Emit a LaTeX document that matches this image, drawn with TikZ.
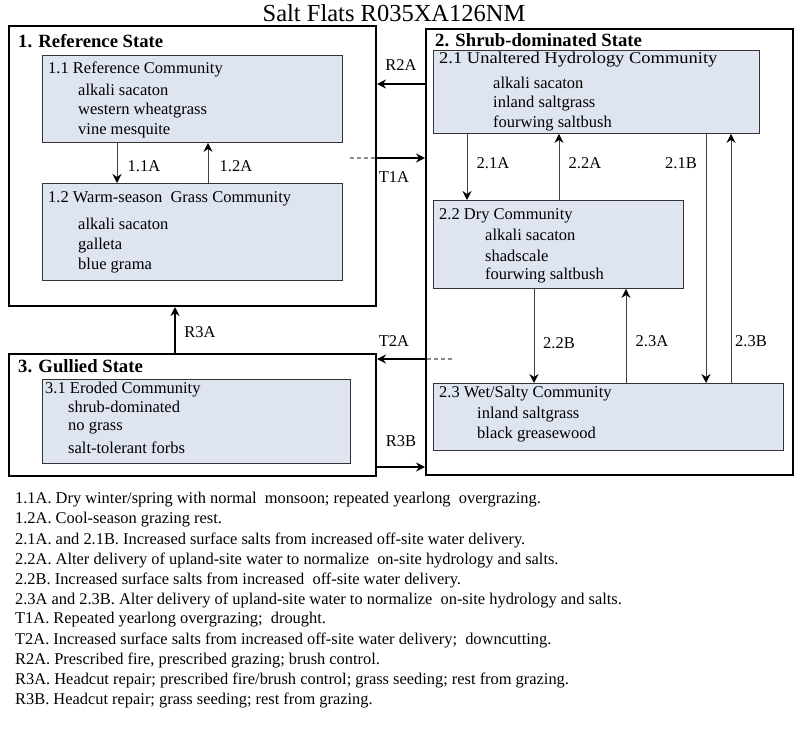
\documentclass[tikz,border=0pt]{standalone}
\usepackage{fontspec}
\usepackage{graphicx}
\setmainfont{Liberation Serif}
\usetikzlibrary{arrows.meta,calc}
\definecolor{boxfill}{RGB}{222,229,241}
\begin{document}
\begin{tikzpicture}[x=1pt,y=-1pt,
  state/.style={draw=black,line width=2pt,anchor=north west,inner sep=0},
  comm/.style={draw=black!80,fill=boxfill,line width=0.9pt,anchor=north west,inner sep=0},
  txt/.style={anchor=west,inner sep=0,font=\fontsize{16.5}{19}\selectfont},
  leg/.style={anchor=west,inner sep=0,font=\fontsize{16.4}{19}\selectfont},
  lbl/.style={inner sep=0,font=\fontsize{16.5}{19}\selectfont},
  stitle/.style={anchor=west,inner sep=0,font=\fontsize{18.7}{22}\selectfont\bfseries},
  big/.style={line width=1.8pt,-{Stealth[length=9pt,width=9pt,inset=3pt]}},
  thin/.style={line width=1pt,draw=black!75,-{Stealth[length=9pt,width=9pt,inset=3pt,color=black]}},
  dashline/.style={line width=1.2pt,draw=black!45,dash pattern=on 4pt off 3pt}
]
\useasboundingbox[fill=white] (0,0) rectangle (800,750);
\node[inner sep=0,font=\fontsize{24.5}{28}\selectfont] (title) at (394,13) {Salt Flats R035XA126NM};

% states
\node[state,minimum width=367pt,minimum height=280pt] (s1) at (8,25) {};
\node[state,minimum width=367pt,minimum height=446pt] (s2) at (425,28) {};
\node[state,minimum width=367pt,minimum height=122pt] (s3) at (8,353) {};
\node[stitle] (s1t) at (18,41) {1. Reference State};
\node[stitle] (s2t) at (435,40) {2. Shrub-dominated State};
\node[stitle] (s3t) at (18,366) {3. Gullied State};

% communities
\node[comm,minimum width=300pt,minimum height=87pt] (c11) at (42,55) {};
\node[comm,minimum width=300pt,minimum height=97pt] (c12) at (42,183) {};
\node[comm,minimum width=326pt,minimum height=83pt] (c21) at (433,50) {};
\node[comm,minimum width=250pt,minimum height=88pt] (c22) at (433,200) {};
\node[comm,minimum width=350pt,minimum height=67pt] (c23) at (433,383) {};
\node[comm,minimum width=308pt,minimum height=84pt] (c31) at (42,379) {};

\node[txt] (c11t) at (48,69) {1.1 Reference Community};
\node[txt] (c11a) at (78,90) {alkali sacaton};
\node[txt] (c11b) at (78,111) {western wheatgrass};
\node[txt] (c11c) at (78,131) {vine mesquite};

\node[txt] (c12t) at (48,199) {1.2 Warm-season\ \ Grass Community};
\node[txt] (c12a) at (78,224) {alkali sacaton};
\node[txt] (c12b) at (78,246) {galleta};
\node[txt] (c12c) at (78,266) {blue grama};

\node[txt] (c21t) at (439,60) {\scalebox{1.12}[1]{2.1 Unaltered Hydrology Community}};
\node[txt] (c21a) at (493,83) {alkali sacaton};
\node[txt] (c21b) at (493,104) {inland saltgrass};
\node[txt] (c21c) at (493,123) {fourwing saltbush};

\node[txt] (c22t) at (439,216) {2.2 Dry Community};
\node[txt] (c22a) at (485,235) {alkali sacaton};
\node[txt] (c22b) at (485,256) {shadscale};
\node[txt] (c22c) at (485,275) {fourwing saltbush};

\node[txt] (c23t) at (439,394) {2.3 Wet/Salty Community};
\node[txt] (c23a) at (477,415) {inland saltgrass};
\node[txt] (c23b) at (477,435) {black greasewood};

\node[txt] (c31t) at (45,390) {3.1 Eroded Community};
\node[txt] (c31a) at (68,407) {shrub-dominated};
\node[txt] (c31b) at (68,428) {no grass};
\node[txt] (c31c) at (68,448) {salt-tolerant forbs};

% inner transitions
\draw[thin] (117,0 |- c11.south) -- (117,0 |- c12.north);
\draw[thin] (208,0 |- c12.north) -- (208,0 |- c11.south);
\draw[thin] (467,0 |- c21.south) -- (467,0 |- c22.north);
\draw[thin] (559,0 |- c22.north) -- (559,0 |- c21.south);
\draw[thin] (706,0 |- c21.south) -- (706,0 |- c23.north);
\draw[thin] (731,0 |- c23.north) -- (731,0 |- c21.south);
\draw[thin] (534,0 |- c22.south) -- (534,0 |- c23.north);
\draw[thin] (626,0 |- c23.north) -- (626,0 |- c22.south);
\node[lbl] (l11a) at (144,166) {1.1A};
\node[lbl] (l12a) at (236,166) {1.2A};
\node[lbl] (l21a) at (493,163) {2.1A};
\node[lbl] (l22a) at (585,163) {2.2A};
\node[lbl] (l21b) at (681,163) {2.1B};
\node[lbl] (l22b) at (559,343) {2.2B};
\node[lbl] (l23a) at (652,341) {2.3A};
\node[lbl] (l23b) at (751,341) {2.3B};

% state transitions
\draw[big] (s2.west |- 0,84) -- (s1.east |- 0,84);
\node[lbl] (lr2a) at (401,65) {R2A};
\coordinate (t1s) at (350,158);
\draw[dashline] (t1s) -- (s1.east |- t1s);
\draw[big] (s1.east |- t1s) -- (s2.west |- t1s);
\node[lbl] (lt1a) at (394,177) {T1A};
\coordinate (t2s) at (452,359);
\draw[dashline] (t2s) -- (s2.west |- t2s);
\draw[big] (s2.west |- t2s) -- (s3.east |- t2s);
\node[lbl] (lt2a) at (394,341) {T2A};
\draw[big] (s3.east |- 0,467) -- (s2.west |- 0,467);
\node[lbl] (lr3b) at (401,441) {R3B};
\draw[big] (175,0 |- s3.north) -- (175,0 |- s1.south);
\node[lbl] (lr3a) at (200,332) {R3A};

% legend
\begin{scope}[every node/.style={leg}]
\node (n1) at (15,500) {1.1A. Dry winter/spring with normal\ \ monsoon; repeated yearlong\ \ overgrazing.};
\node (n2) at (15,520) {1.2A. Cool-season grazing rest.};
\node (n3) at (15,540) {2.1A. and 2.1B. Increased surface salts from increased off-site water delivery.};
\node (n4) at (15,560) {2.2A. Alter delivery of upland-site water to normalize\ \ on-site hydrology and salts.};
\node (n5) at (15,580) {2.2B. Increased surface salts from increased\ \ off-site water delivery.};
\node (n6) at (15,600) {2.3A and 2.3B. Alter delivery of upland-site water to normalize\ \ on-site hydrology and salts.};
\node (n7) at (15,620) {T1A. Repeated yearlong overgrazing;\ \ drought.};
\node (n8) at (15,640) {T2A. Increased surface salts from increased off-site water delivery;\ \ downcutting.};
\node (n9) at (15,660) {R2A. Prescribed fire, prescribed grazing; brush control.};
\node (n10) at (15,680) {R3A. Headcut repair; prescribed fire/brush control; grass seeding; rest from grazing.};
\node (n11) at (15,700) {R3B. Headcut repair; grass seeding; rest from grazing.};
\end{scope}
\end{tikzpicture}
\end{document}
